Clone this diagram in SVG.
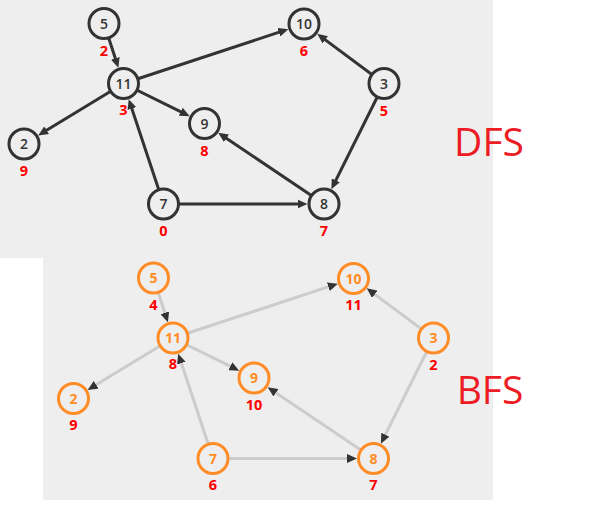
<svg xmlns="http://www.w3.org/2000/svg" width="597" height="518" viewBox="0 0 597 518">
<defs>
<marker id="ah" markerUnits="userSpaceOnUse" markerWidth="10" markerHeight="9" refX="2" refY="4.5" orient="auto" viewBox="0 0 10 9">
<path d="M0,0 L10,4.5 L0,9 z" fill="#333"/>
</marker>
<style>
.bg{fill:#eeeeee}
.e{stroke:#333;stroke-width:3;fill:none;marker-end:url(#ah)}
.eb{stroke:#cccccc;stroke-width:3;fill:none;marker-end:url(#ah)}
.n circle{fill:#eeeeee;stroke:#333;stroke-width:3}
.n text{font-family:"Open Sans","Noto Sans",sans-serif;font-size:14px;font-weight:600;fill:#333;text-anchor:middle}
.nb circle{fill:#eeeeee;stroke:#ff8c26;stroke-width:3}
.nb text{font-family:"Open Sans","Noto Sans",sans-serif;font-size:14px;font-weight:bold;fill:#ff8c26;text-anchor:middle}
.n text.l,.nb text.l{fill:#ff0000;font-weight:bold;font-size:14.5px}
.t{font-family:"Open Sans","Noto Sans",sans-serif;font-size:39px;fill:#ed1c24;text-anchor:middle}
</style>
</defs>
<rect class="bg" x="0" y="0" width="493" height="258"/>
<rect class="bg" x="43" y="257" width="450" height="243"/>

<g id="dfs">
<g id="dfs-edges">
<line class="e" x1="104" y1="23.5" x2="115.93" y2="60.2"/>
<line class="e" x1="123.5" y1="83.5" x2="280.73" y2="31.67"/>
<line class="e" x1="123.5" y1="83.5" x2="44.94" y2="131.27"/>
<line class="e" x1="123.5" y1="83.5" x2="182.53" y2="112.65"/>
<line class="e" x1="163.5" y1="204" x2="131.22" y2="106.75"/>
<line class="e" x1="163.5" y1="204" x2="299.5" y2="204"/>
<line class="e" x1="324" y1="204" x2="224.82" y2="137.19"/>
<line class="e" x1="384" y1="83.5" x2="323.66" y2="38.62"/>
<line class="e" x1="384" y1="83.5" x2="334.92" y2="182.07"/>
</g>
<g id="dfs-n5" class="n"><circle cx="104" cy="23.5" r="15"/><text x="104" y="28.5">5</text><text class="l" x="104" y="55.5">2</text></g>
<g id="dfs-n11" class="n"><circle cx="123.5" cy="83.5" r="15"/><text x="123.5" y="88.5">11</text><text class="l" x="123.5" y="115">3</text></g>
<g id="dfs-n2" class="n"><circle cx="24" cy="144" r="15"/><text x="24" y="149">2</text><text class="l" x="24" y="175.5">9</text></g>
<g id="dfs-n9" class="n"><circle cx="204.5" cy="123.5" r="15"/><text x="204.5" y="128.5">9</text><text class="l" x="204.5" y="155.5">8</text></g>
<g id="dfs-n7" class="n"><circle cx="163.5" cy="204" r="15"/><text x="163.5" y="209">7</text><text class="l" x="163.5" y="235.5">0</text></g>
<g id="dfs-n10" class="n"><circle cx="304" cy="24" r="15"/><text x="304" y="29">10</text><text class="l" x="304" y="56">6</text></g>
<g id="dfs-n3" class="n"><circle cx="384" cy="83.5" r="15"/><text x="384" y="88.5">3</text><text class="l" x="384" y="115.5">5</text></g>
<g id="dfs-n8" class="n"><circle cx="324" cy="204" r="15"/><text x="324" y="209">8</text><text class="l" x="324" y="235.5">7</text></g>
</g>
<text class="t" x="489" y="156">DFS</text>

<g id="bfs" transform="translate(49.5,254.5)">
<g id="bfs-edges">
<line class="eb" x1="104" y1="23.5" x2="115.93" y2="60.2"/>
<line class="eb" x1="123.5" y1="83.5" x2="280.73" y2="31.67"/>
<line class="eb" x1="123.5" y1="83.5" x2="44.94" y2="131.27"/>
<line class="eb" x1="123.5" y1="83.5" x2="182.53" y2="112.65"/>
<line class="eb" x1="163.5" y1="204" x2="131.22" y2="106.75"/>
<line class="eb" x1="163.5" y1="204" x2="299.5" y2="204"/>
<line class="eb" x1="324" y1="204" x2="224.82" y2="137.19"/>
<line class="eb" x1="384" y1="83.5" x2="323.66" y2="38.62"/>
<line class="eb" x1="384" y1="83.5" x2="334.92" y2="182.07"/>
</g>
<g id="bfs-n5" class="nb"><circle cx="104" cy="23.5" r="15"/><text x="104" y="28.5">5</text><text class="l" x="104" y="55">4</text></g>
<g id="bfs-n11" class="nb"><circle cx="123.5" cy="83.5" r="15"/><text x="123.5" y="88.5">11</text><text class="l" x="123.5" y="114.5">8</text></g>
<g id="bfs-n2" class="nb"><circle cx="24" cy="144" r="15"/><text x="24" y="149">2</text><text class="l" x="24" y="175">9</text></g>
<g id="bfs-n9" class="nb"><circle cx="204.5" cy="123.5" r="15"/><text x="204.5" y="128.5">9</text><text class="l" x="204.5" y="155">10</text></g>
<g id="bfs-n7" class="nb"><circle cx="163.5" cy="204" r="15"/><text x="163.5" y="209">7</text><text class="l" x="163.5" y="235">6</text></g>
<g id="bfs-n10" class="nb"><circle cx="304" cy="24" r="15"/><text x="304" y="29">10</text><text class="l" x="304" y="55.5">11</text></g>
<g id="bfs-n3" class="nb"><circle cx="384" cy="83.5" r="15"/><text x="384" y="88.5">3</text><text class="l" x="384" y="115">2</text></g>
<g id="bfs-n8" class="nb"><circle cx="324" cy="204" r="15"/><text x="324" y="209">8</text><text class="l" x="324" y="235">7</text></g>
</g>
<text class="t" x="490" y="404">BFS</text>
</svg>
